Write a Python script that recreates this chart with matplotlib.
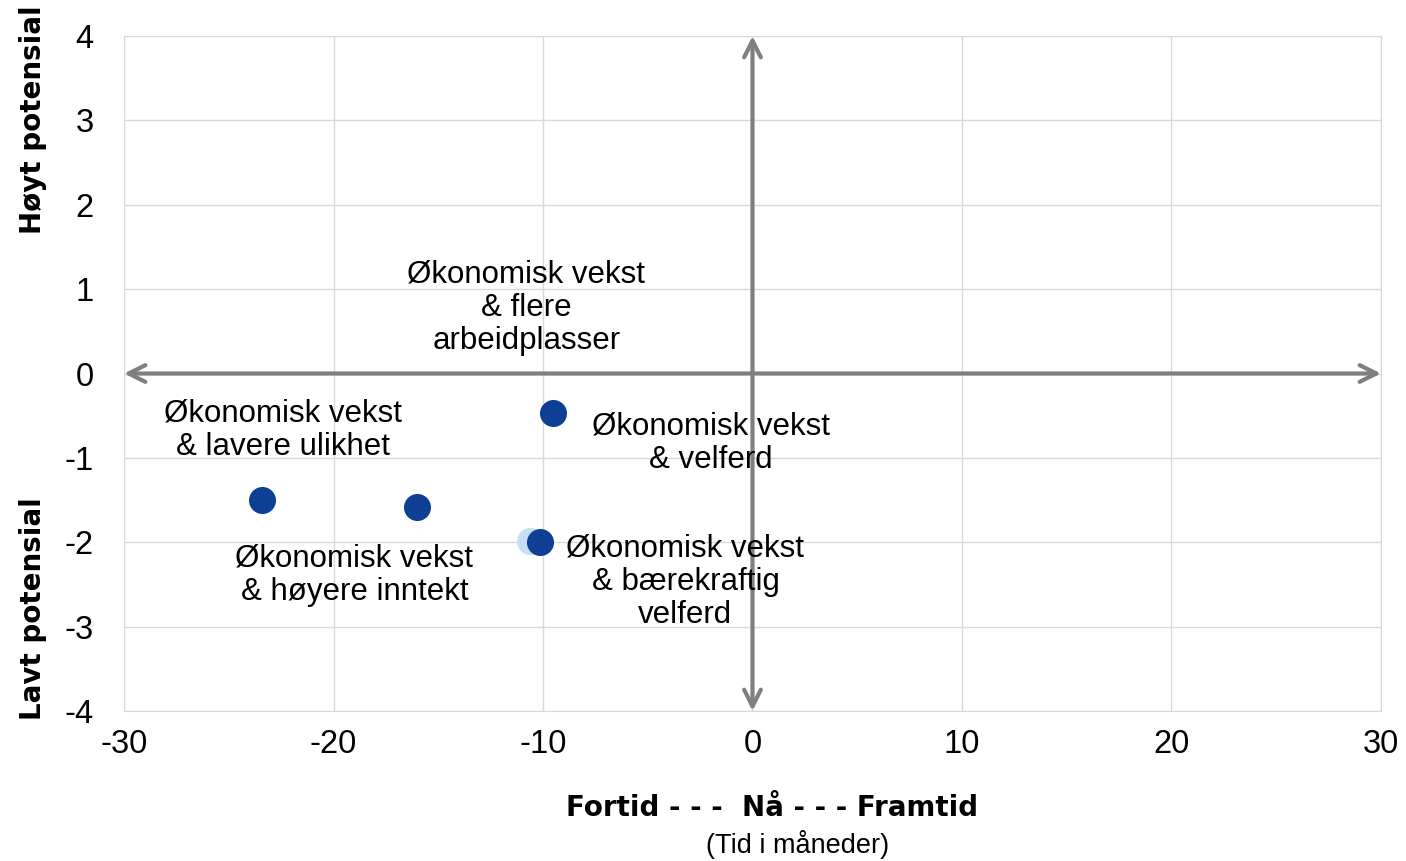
import matplotlib.pyplot as plt

# data
x_main = [-23.4, -16.0, -9.5, -10.15]
y_main = [-1.5, -1.58, -0.47, -2.0]
x_shadow = [-10.6]
y_shadow = [-1.98]

labels = [
    'Økonomisk vekst\n& flere\narbeidplasser',
    'Økonomisk vekst\n& lavere ulikhet',
    'Økonomisk vekst\n& velferd',
    'Økonomisk vekst\n& høyere inntekt',
    'Økonomisk vekst\n& bærekraftig\nvelferd',
]
label_x = [-10.8, -22.4, -2.0, -19.0, -3.2]
label_y = [0.78, -0.67, -0.83, -2.39, -2.47]

x_ticks = [-30, -20, -10, 0, 10, 20, 30]
y_ticks = [-4, -3, -2, -1, 0, 1, 2, 3, 4]

plt.rcParams['font.family'] = ['Liberation Sans', 'DejaVu Sans']
plt.rcParams['axes.unicode_minus'] = False

fig = plt.figure(figsize=(14.06, 8.61), dpi=100)
ax = fig.add_axes([0.0882, 0.1742, 0.894, 0.784])

ax.set_xlim(-30, 30)
ax.set_ylim(-4, 4)
ax.set_xticks(x_ticks)
ax.set_yticks(y_ticks)
ax.grid(True, color='#d9d9d9', lw=1)
ax.set_axisbelow(True)
for s in ax.spines.values():
    s.set_color('#d9d9d9')
ax.tick_params(length=0, labelsize=23.5)
ax.tick_params(axis='y', pad=22)
ax.tick_params(axis='x', pad=13)

# kvadrant-piler
arrow = dict(arrowstyle='<->', color='#7f7f7f', lw=3, mutation_scale=30,
             shrinkA=0, shrinkB=0)
ax.annotate('', xy=(30, 0), xytext=(-30, 0), arrowprops=arrow)
ax.annotate('', xy=(0, 4), xytext=(0, -4), arrowprops=arrow)

ax.scatter(x_shadow, y_shadow, s=340, color='#c5e0f5', zorder=3)
ax.scatter(x_main, y_main, s=340, color='#0d3f94', zorder=4)

for t, lx, ly in zip(labels, label_x, label_y):
    ax.text(lx, ly, t, ha='center', va='center', fontsize=22.5, linespacing=1.15, zorder=5)

fig.text(0.549, 0.062, 'Fortid - - -  Nå - - - Framtid', ha='center', va='center',
         fontsize=20, fontweight='bold', family='DejaVu Sans')
fig.text(0.567, 0.019, '(Tid i måneder)', ha='center', va='center', fontsize=19.5)
fig.text(0.0235, 0.861, 'Høyt potensial', rotation=90, ha='center', va='center',
         fontsize=20, fontweight='bold', family='DejaVu Sans')
fig.text(0.0235, 0.293, 'Lavt potensial', rotation=90, ha='center', va='center',
         fontsize=20, fontweight='bold', family='DejaVu Sans')

fig.savefig('out.png', dpi=100)
